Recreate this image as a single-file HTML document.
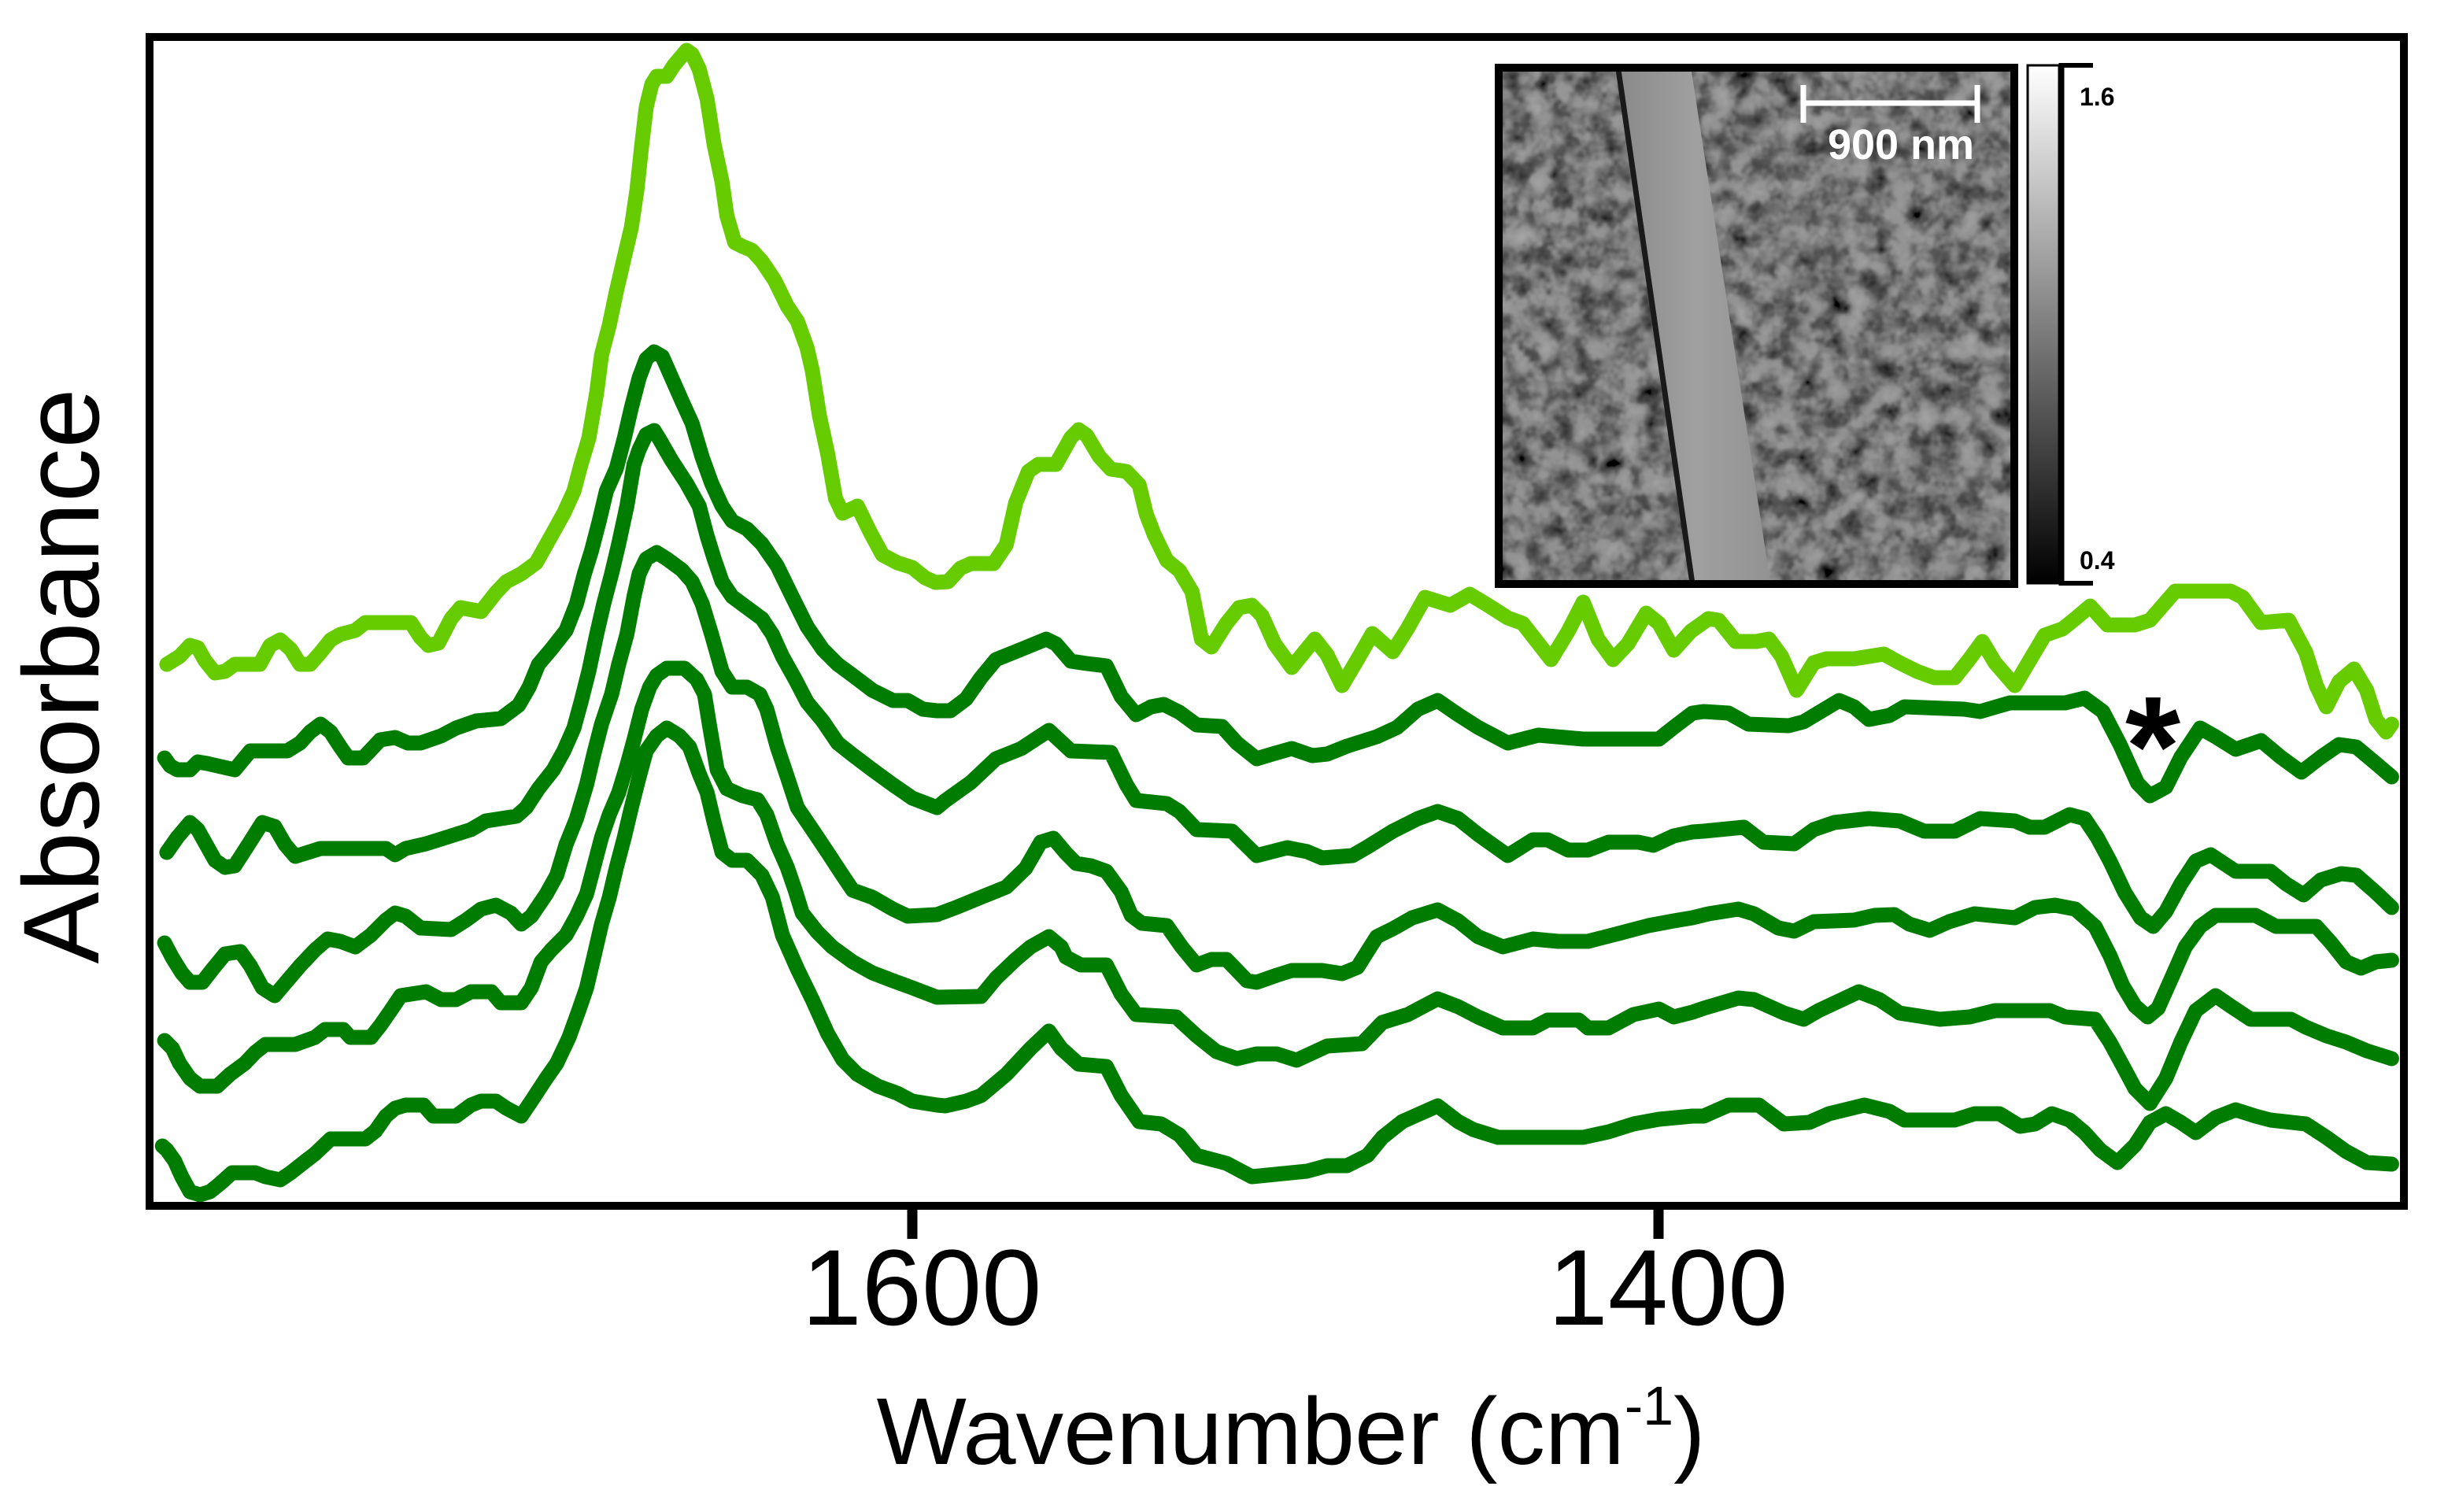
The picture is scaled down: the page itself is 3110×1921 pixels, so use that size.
<!DOCTYPE html>
<html><head><meta charset="utf-8"><style>
html,body{margin:0;padding:0;background:#fff;}
svg{display:block;}
text{font-family:"Liberation Sans",Arial,sans-serif;}
</style></head><body>
<svg id="chart" width="3110" height="1921" viewBox="0 0 3110 1921" xmlns="http://www.w3.org/2000/svg">
<defs>
<filter id="afmNoise" x="0" y="0" width="100%" height="100%">
<feTurbulence type="fractalNoise" baseFrequency="0.035" numOctaves="3" seed="7" result="n"/>
<feColorMatrix type="matrix" values="0.33 0.33 0.33 0 0  0.33 0.33 0.33 0 0  0.33 0.33 0.33 0 0  0 0 0 0 1" result="g"/>
<feComponentTransfer><feFuncR type="table" tableValues="0 0 0 0.1 0.28 0.36 0.44 0.52"/><feFuncG type="table" tableValues="0 0 0 0.1 0.28 0.36 0.44 0.52"/><feFuncB type="table" tableValues="0 0 0 0.1 0.28 0.36 0.44 0.52"/></feComponentTransfer>
</filter>
<linearGradient id="cbar" x1="0" y1="0" x2="0" y2="1"><stop offset="0" stop-color="#ffffff"/><stop offset="1" stop-color="#000000"/></linearGradient>
<linearGradient id="fiberGrad" x1="0" y1="0" x2="1" y2="0"><stop offset="0" stop-color="#8a8a8a"/><stop offset="0.5" stop-color="#a0a0a0"/><stop offset="1" stop-color="#929292"/></linearGradient>
<clipPath id="insetClip"><rect x="1909" y="91" width="645" height="646"/></clipPath>
</defs>
<g id="series-layer"></g>
<g id="inset">
<rect x="1909" y="91" width="645" height="646" fill="#3c3c3c"/>
<rect x="1909" y="91" width="645" height="646" filter="url(#afmNoise)"/>
<g clip-path="url(#insetClip)">
<polygon points="2059,85 2148,85 2250,745 2154,745" fill="url(#fiberGrad)"/>
<polygon points="2052,85 2059,85 2154,745 2147,745" fill="#1a1a1a"/>
</g>
<rect x="1904" y="86" width="655" height="656" fill="none" stroke="#000" stroke-width="10"/>
<line x1="2288" y1="131" x2="2515" y2="131" stroke="#fff" stroke-width="7"/>
<line x1="2291" y1="108" x2="2291" y2="156" stroke="#fff" stroke-width="7"/>
<line x1="2512" y1="108" x2="2512" y2="156" stroke="#fff" stroke-width="7"/>
<text x="2415" y="202" font-size="54" font-weight="bold" fill="#fff" text-anchor="middle">900 nm</text>
<rect x="2576" y="83" width="40" height="658" fill="url(#cbar)" stroke="#000" stroke-width="3"/>
<line x1="2619" y1="80" x2="2619" y2="744" stroke="#000" stroke-width="7"/>
<line x1="2616" y1="83" x2="2659" y2="83" stroke="#000" stroke-width="6"/>
<line x1="2616" y1="741" x2="2659" y2="741" stroke="#000" stroke-width="6"/>
<text x="2642" y="134" font-size="32" font-weight="bold">1.6</text>
<text x="2642" y="723" font-size="32" font-weight="bold">0.4</text>
</g>
<rect x="190" y="47" width="2864" height="1485" fill="none" stroke="#000" stroke-width="10"/>
<g id="x-axis"></g>
<text x="2735" y="1010" font-size="180" font-weight="bold" text-anchor="middle" fill="#000">*</text>
<text transform="translate(125,859) rotate(-90)" font-size="137" text-anchor="middle">Absorbance</text>
<text x="1640" y="1860" font-size="121" text-anchor="middle">Wavenumber (cm<tspan font-size="70" dy="-50">-1</tspan><tspan dy="50">)</tspan></text>
</svg>
<script>
const xTicks = [1600, 1400];
const wn0 = [1799.8,1796.4,1793.6,1791.5,1789.6,1786.9,1784.2,1781.6,1774.9,1772.1,1769.4,1766.6,1764.1,1761.4,1758.6,1755.9,1753.3,1749.3,1746.6,1734.4,1731.8,1729.7,1727.0,1723.6,1721.1,1715.6,1711.6,1708.8,1704.8,1700.8,1696.8,1693.4,1690.7,1688.8,1686.7,1684.6,1683.3,1681.2,1679.3,1677.2,1675.3,1673.8,1672.5,1671.3,1669.8,1668.5,1665.8,1663.9,1660.5,1659.0,1657.1,1655.0,1653.1,1651.0,1649.7,1647.6,1645.5,1643.0,1640.3,1636.9,1633.5,1630.8,1628.2,1626.8,1624.9,1622.7,1620.6,1618.7,1614.7,1611.3,1608.0,1604.0,1600.0,1596.6,1593.8,1590.4,1587.1,1584.3,1578.2,1574.8,1572.3,1568.9,1566.2,1561.5,1557.5,1555.4,1553.3,1549.9,1546.8,1542.6,1539.2,1537.3,1535.2,1531.8,1528.4,1525.0,1522.5,1519.8,1515.8,1512.4,1509.0,1506.3,1502.9,1498.3,1492.1,1488.8,1484.8,1480.7,1476.7,1471.2,1467.2,1462.6,1455.8,1450.6,1445.7,1440.4,1436.4,1428.8,1424.2,1420.2,1416.2,1412.2,1408.2,1403.3,1399.9,1395.9,1391.3,1386.6,1383.9,1379.3,1373.8,1370.4,1367.0,1363.0,1358.4,1355.0,1347.6,1339.6,1335.4,1330.7,1326.1,1320.6,1316.6,1313.2,1309.8,1304.5,1300.5,1296.5,1291.7,1288.3,1284.3,1279.7,1272.3,1268.3,1261.5,1246.7,1243.4,1238.5,1231.1,1226.5,1223.7,1221.0,1217.6,1213.6,1210.2,1207.7,1205.0,1203.5];
const ab0 = [688,698,712,709,693,677,679,688,688,712,719,707,688,688,703,719,726,731,741,741,722,712,715,746,760,755,779,793,803,817,851,880,908,942,975,1033,1081,1119,1162,1205,1243,1291,1348,1396,1425,1435,1435,1449,1468,1463,1444,1406,1348,1301,1258,1224,1219,1214,1200,1176,1143,1124,1090,1061,1004,956,899,880,889,856,827,817,811,798,792,793,810,816,816,840,893,933,942,942,976,986,979,952,936,933,916,879,853,820,807,780,720,710,740,760,763,750,714,684,720,700,661,694,727,704,734,773,763,777,763,747,740,694,730,767,720,694,714,753,740,706,730,746,744,717,717,720,698,655,690,695,695,701,690,679,671,671,695,717,690,661,693,725,733,746,762,738,738,744,781,781,773,741,744,703,661,634,666,682,655,618,602,612];
const wn1 = [1800.4,1798.9,1797.0,1793.6,1791.5,1789.0,1781.6,1777.4,1767.5,1764.1,1761.4,1758.6,1755.9,1753.3,1751.2,1747.2,1742.6,1738.6,1735.2,1731.8,1726.3,1722.3,1716.9,1710.3,1705.5,1702.7,1700.2,1696.8,1692.8,1690.0,1687.9,1686.0,1683.9,1682.0,1679.3,1677.2,1675.3,1673.2,1671.3,1669.2,1667.0,1664.5,1661.8,1659.0,1656.3,1653.8,1651.0,1648.3,1644.3,1640.3,1636.2,1632.2,1628.2,1624.0,1620.0,1616.0,1610.7,1605.2,1601.2,1597.2,1593.4,1589.8,1585.6,1581.6,1577.6,1570.8,1564.1,1561.5,1557.5,1553.3,1548.0,1544.0,1540.0,1536.0,1532.6,1528.4,1523.8,1517.0,1513.0,1507.7,1503.5,1498.3,1492.8,1488.8,1483.5,1475.5,1470.0,1464.5,1459.2,1453.7,1448.4,1440.4,1432.2,1420.2,1399.9,1395.9,1390.9,1387.9,1381.2,1375.9,1365.1,1361.1,1351.6,1347.6,1343.6,1338.1,1334.1,1318.1,1313.8,1305.8,1291.0,1285.8,1280.9,1276.3,1271.6,1268.3,1264.0,1260.0,1254.8,1250.7,1245.3,1238.5,1233.2,1227.7,1222.5,1217.6,1213.0,1207.7,1203.5];
const ab1 = [569,559,554,554,564,562,554,578,578,588,602,612,602,583,569,569,592,595,588,588,597,607,616,619,636,659,688,707,731,765,803,832,870,908,937,975,1014,1052,1076,1085,1079,1052,1023,994,951,918,889,870,860,841,813,774,736,707,688,674,655,642,642,631,629,629,644,671,694,707,720,714,692,689,686,647,624,634,637,627,611,609,588,568,574,581,572,574,584,596,608,631,642,624,608,588,598,593,593,608,626,628,626,612,610,615,642,634,618,623,634,631,628,639,639,645,628,586,537,521,532,570,607,596,580,591,570,551,570,586,583,562,545];
const wn2 = [1799.8,1797.0,1793.6,1791.5,1786.9,1784.2,1781.6,1777.4,1774.2,1770.9,1768.1,1765.4,1758.6,1741.1,1738.6,1735.8,1730.3,1723.6,1718.3,1714.3,1706.1,1703.5,1700.2,1696.2,1693.4,1690.7,1688.8,1686.7,1684.6,1682.7,1680.6,1678.7,1676.5,1674.6,1673.2,1671.3,1669.2,1667.9,1664.5,1660.5,1657.1,1655.0,1653.1,1651.0,1648.3,1644.3,1640.3,1637.5,1634.8,1631.4,1628.2,1624.0,1620.0,1616.0,1610.7,1605.2,1600.0,1593.4,1591.1,1584.3,1577.6,1570.8,1563.4,1557.5,1546.8,1542.6,1540.0,1531.8,1528.4,1523.8,1514.3,1507.7,1499.5,1494.2,1490.2,1482.0,1478.0,1471.2,1464.5,1459.2,1453.7,1448.4,1440.4,1433.7,1429.7,1424.2,1418.9,1413.4,1405.4,1401.4,1395.9,1390.9,1387.9,1377.1,1371.9,1363.6,1358.4,1352.9,1343.6,1335.4,1328.8,1320.6,1313.8,1304.5,1300.5,1296.5,1289.8,1285.8,1282.4,1279.0,1275.0,1270.8,1267.4,1264.0,1260.0,1256.0,1252.0,1245.3,1236.0,1231.8,1227.1,1222.5,1217.0,1213.0,1207.7,1203.5];
const ab2 = [449,468,487,478,439,430,432,463,487,482,459,444,454,454,446,454,460,470,478,489,495,506,530,554,578,607,640,679,726,765,803,841,889,942,961,980,985,975,947,918,889,851,822,793,774,760,746,726,698,669,640,616,588,573,554,535,518,506,515,538,568,581,604,578,576,535,515,511,501,478,476,445,455,450,442,445,456,476,492,501,492,472,445,465,465,452,452,462,462,458,470,475,476,481,462,460,478,487,492,489,476,476,492,489,481,481,497,492,468,438,398,366,355,374,409,438,446,425,425,409,395,414,422,420,398,379];
const wn3 = [1800.4,1798.3,1795.8,1793.6,1790.3,1787.5,1784.2,1780.1,1777.4,1774.2,1770.9,1767.5,1764.1,1760.1,1756.7,1753.3,1749.3,1745.1,1741.1,1738.6,1735.8,1731.8,1723.6,1719.6,1715.6,1711.6,1707.6,1704.8,1702.1,1698.1,1695.3,1692.8,1690.0,1687.3,1685.4,1683.3,1680.6,1678.7,1676.5,1674.6,1673.2,1671.3,1668.5,1665.8,1661.8,1659.0,1656.3,1653.8,1651.0,1648.3,1644.3,1640.9,1639.0,1636.2,1633.5,1630.8,1626.8,1622.7,1618.7,1616.0,1610.7,1605.2,1601.2,1593.4,1588.3,1581.6,1574.8,1569.6,1565.6,1562.2,1558.8,1556.1,1552.1,1548.0,1544.0,1541.3,1538.5,1531.8,1527.8,1523.8,1519.8,1515.8,1510.3,1507.7,1502.3,1498.3,1490.2,1484.8,1480.7,1475.5,1471.2,1466.0,1459.2,1453.7,1448.4,1441.7,1433.7,1426.9,1418.9,1410.7,1402.7,1395.9,1390.9,1386.6,1378.6,1374.4,1367.9,1363.6,1358.4,1347.6,1342.1,1336.8,1332.8,1327.3,1322.1,1315.3,1304.5,1299.1,1293.8,1288.3,1283.0,1279.0,1275.6,1272.3,1268.9,1266.1,1262.8,1258.8,1254.8,1250.7,1240.0,1234.5,1223.7,1219.7,1215.7,1211.7,1207.7,1203.5];
const ab3 = [334,315,296,284,284,301,320,323,305,277,267,286,305,325,339,336,329,344,363,372,368,353,351,363,377,382,372,358,368,396,420,459,492,535,573,612,650,688,726,774,803,822,830,822,808,793,765,726,679,659,659,650,631,583,545,506,478,449,420,401,392,377,368,370,379,392,405,429,462,467,448,435,432,425,399,369,359,356,329,306,313,313,286,284,293,299,299,295,303,342,352,366,376,362,342,329,339,336,336,346,356,362,366,371,377,371,353,349,361,363,369,370,358,350,361,371,366,379,382,377,355,318,280,254,240,251,286,329,355,369,369,355,355,334,310,302,310,312];
const wn4 = [1800.4,1798.3,1796.4,1793.6,1790.9,1786.3,1782.9,1778.9,1776.1,1773.4,1765.4,1760.1,1757.4,1752.5,1750.6,1745.1,1742.6,1739.8,1737.1,1730.3,1726.3,1722.3,1718.3,1712.8,1710.3,1704.8,1702.1,1699.5,1696.8,1692.8,1690.0,1687.3,1685.4,1683.3,1681.2,1678.7,1676.5,1674.6,1672.5,1670.4,1668.5,1665.8,1661.1,1657.8,1655.7,1654.4,1652.3,1649.7,1645.5,1641.5,1639.0,1636.2,1633.5,1631.4,1629.5,1625.5,1621.5,1616.0,1610.7,1605.2,1600.0,1593.4,1581.6,1577.6,1572.3,1568.3,1563.4,1560.1,1558.8,1554.8,1548.0,1544.0,1540.0,1529.3,1523.8,1518.5,1513.0,1507.7,1502.3,1497.0,1488.8,1479.5,1474.0,1467.2,1459.2,1453.7,1448.4,1441.7,1433.7,1429.7,1421.4,1418.9,1413.4,1406.7,1399.9,1395.9,1390.9,1387.9,1378.6,1374.4,1366.4,1361.1,1357.1,1346.3,1340.8,1335.4,1324.6,1316.6,1309.8,1295.1,1291.0,1283.0,1279.0,1275.0,1272.3,1268.3,1264.0,1260.0,1256.0,1250.7,1246.7,1241.3,1230.5,1226.5,1221.0,1215.7,1210.2,1203.5];
const ab4 = [210,200,181,162,152,152,167,181,195,205,205,214,224,224,214,214,229,248,267,272,262,262,272,272,258,258,277,310,325,344,368,396,430,468,497,525,559,592,631,659,674,683,683,669,650,612,554,530,521,516,497,459,430,401,372,348,329,310,296,286,277,265,266,289,313,329,342,329,316,306,306,269,243,240,216,196,187,193,193,185,203,206,233,243,263,253,240,226,226,236,236,226,226,243,250,240,246,251,264,262,245,237,248,272,262,245,237,240,248,248,240,237,208,173,149,130,162,208,248,267,254,237,237,227,216,208,197,187];
const wn5 = [1801.0,1799.8,1797.7,1795.8,1793.6,1790.9,1788.2,1785.6,1782.3,1776.1,1773.4,1769.4,1766.6,1762.6,1760.1,1755.9,1753.3,1746.6,1743.9,1741.1,1738.6,1735.8,1731.0,1728.4,1722.3,1718.3,1715.6,1711.6,1708.8,1704.8,1702.1,1698.1,1695.3,1692.0,1689.4,1687.3,1685.4,1683.3,1681.2,1679.3,1677.2,1675.3,1673.2,1671.3,1668.5,1665.8,1662.4,1659.7,1657.1,1655.0,1653.1,1651.0,1648.3,1644.3,1640.3,1637.5,1634.8,1630.8,1626.8,1622.7,1618.7,1614.7,1609.2,1604.0,1600.0,1593.4,1591.1,1585.6,1581.6,1574.8,1568.3,1563.4,1560.1,1555.4,1548.0,1544.0,1539.2,1533.3,1528.4,1523.8,1515.8,1509.0,1494.2,1488.8,1483.5,1478.0,1474.0,1468.7,1459.2,1453.7,1449.7,1443.0,1433.7,1420.2,1413.4,1406.7,1399.9,1390.9,1387.9,1381.2,1373.1,1366.4,1359.6,1354.3,1344.8,1338.1,1334.1,1320.6,1315.3,1308.6,1303.1,1299.1,1294.6,1289.8,1285.8,1281.6,1277.0,1272.3,1268.3,1264.0,1260.0,1256.0,1250.7,1245.3,1240.0,1236.0,1226.5,1221.0,1215.7,1210.2,1203.5];
const ab5 = [76,71,57,37,18,14,18,28,42,42,37,33,42,57,66,85,85,85,95,114,124,128,128,114,114,128,133,133,124,114,133,162,181,214,248,277,315,358,392,430,468,506,545,578,597,607,597,583,549,525,487,449,439,439,420,392,344,301,262,219,186,167,152,143,133,128,127,133,140,167,200,222,200,180,177,140,107,104,90,64,54,37,44,51,51,64,87,107,127,107,97,87,87,87,94,104,110,114,114,128,128,104,106,117,128,120,109,109,117,117,101,104,117,109,93,71,55,77,106,117,106,93,112,122,114,109,104,87,69,55,53];

const X0 = 1159, PX_PER_WN = 4.74, Y0 = 1532, PX_PER_UNIT = 1;
function xScale(wn){ return X0 + (1600 - wn) * PX_PER_WN; }
function yScale(v){ return Y0 - v * PX_PER_UNIT; }

const NS = 'http://www.w3.org/2000/svg';
const layer = document.getElementById('series-layer');
const series = [
  {wn: wn0, ab: ab0, color: '#66cc00', name: 'spectrum-reference-light'},
  {wn: wn1, ab: ab1, color: '#007d00', name: 'spectrum-1'},
  {wn: wn2, ab: ab2, color: '#007d00', name: 'spectrum-2'},
  {wn: wn3, ab: ab3, color: '#007d00', name: 'spectrum-3'},
  {wn: wn4, ab: ab4, color: '#007d00', name: 'spectrum-4'},
  {wn: wn5, ab: ab5, color: '#007d00', name: 'spectrum-5'}
];
series.forEach(function(s){
  const n = Math.min(s.wn.length, s.ab.length);
  let d = '';
  for (let i = 0; i < n; i++) {
    d += (i ? 'L' : 'M') + xScale(s.wn[i]).toFixed(1) + ',' + yScale(s.ab[i]).toFixed(1);
  }
  const p = document.createElementNS(NS, 'path');
  p.setAttribute('d', d);
  p.setAttribute('fill', 'none');
  p.setAttribute('stroke', s.color);
  p.setAttribute('stroke-width', '19');
  p.setAttribute('stroke-linejoin', 'round');
  p.setAttribute('stroke-linecap', 'round');
  
  
  layer.appendChild(p);
});

const xAxis = document.getElementById('x-axis');
xTicks.forEach(function(t){
  const x = xScale(t);
  const ln = document.createElementNS(NS, 'line');
  ln.setAttribute('x1', x); ln.setAttribute('x2', x);
  ln.setAttribute('y1', 1532); ln.setAttribute('y2', 1574);
  ln.setAttribute('stroke', '#000'); ln.setAttribute('stroke-width', '13');
  
  
  xAxis.appendChild(ln);
  const tx = document.createElementNS(NS, 'text');
  tx.setAttribute('x', x + 12); tx.setAttribute('y', 1683);
  tx.setAttribute('font-size', '137');
  tx.setAttribute('text-anchor', 'middle');
  tx.textContent = String(t);
  
  
  xAxis.appendChild(tx);
});
</script>
</body></html>
